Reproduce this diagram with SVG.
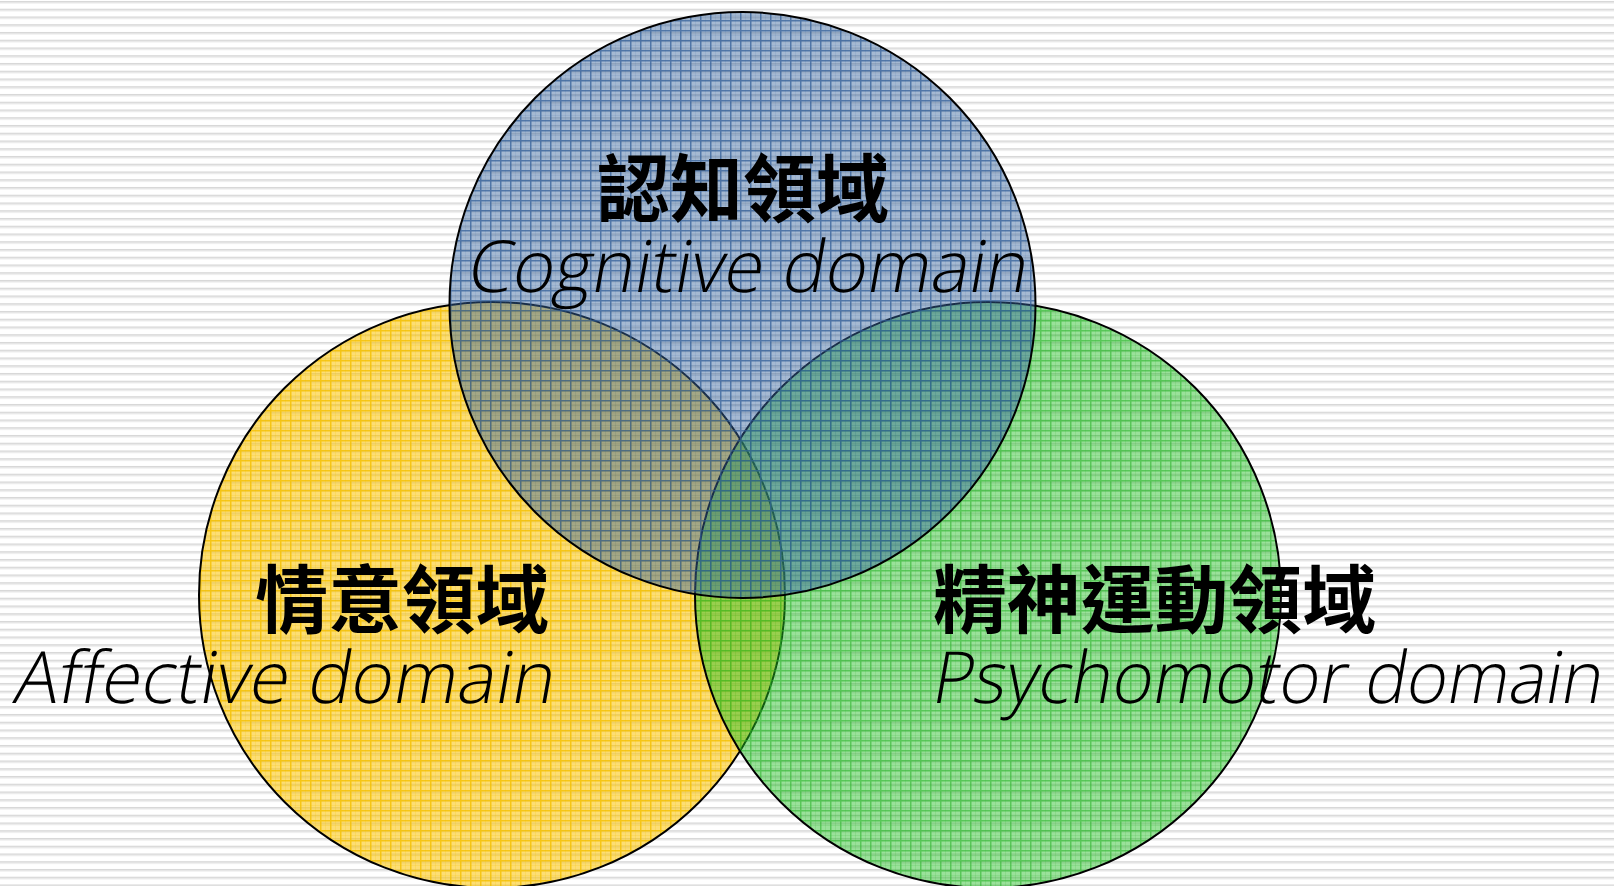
<svg xmlns="http://www.w3.org/2000/svg" width="1614" height="886" viewBox="0 0 1614 886">
<style>
.ring{stroke:#000;stroke-width:2}
.cjk{font-family:"Noto Sans CJK TC","Noto Sans CJK JP",sans-serif;font-weight:bold;font-size:74px;fill:#000}
.en{font-family:"Open Sans","Liberation Sans",Arial,sans-serif;font-weight:350;font-size:72px;fill:#000}
</style>
<defs>
<pattern id="bg" width="40" height="7.75" patternUnits="userSpaceOnUse">
<rect width="40" height="7.75" fill="#fff"/>
<rect y="1" width="40" height="1.6" fill="#d6d6d6"/>
<rect y="2.6" width="40" height="1" fill="#ececec"/>
</pattern>
<pattern id="pb" width="10" height="10" patternUnits="userSpaceOnUse">
<rect width="10" height="10" fill="#37649b" fill-opacity="0.45"/>
<path d="M0.75 0V10M0 0.75H10" stroke="#2d5b96" stroke-width="1.5" stroke-opacity="0.7"/>
<path d="M5.5 0V10M0 5.5H10" stroke="#3a6aa5" stroke-width="0.6" stroke-opacity="0.2"/>
</pattern>
<pattern id="py" width="10" height="10" patternUnits="userSpaceOnUse">
<rect width="10" height="10" fill="#fcc818" fill-opacity="0.6"/>
<path d="M0.75 0V10M0 0.75H10" stroke="#f5c000" stroke-width="1.5" stroke-opacity="0.8"/>
<path d="M5.5 0V10M0 5.5H10" stroke="#f0c000" stroke-width="0.6" stroke-opacity="0.3"/>
</pattern>
<pattern id="pg" width="10" height="10" patternUnits="userSpaceOnUse">
<rect width="10" height="10" fill="#22be22" fill-opacity="0.46"/>
<path d="M0.75 0V10M0 0.75H10" stroke="#2fb52f" stroke-width="1.5" stroke-opacity="0.6"/>
<path d="M5.5 0V10M0 5.5H10" stroke="#2fb52f" stroke-width="0.6" stroke-opacity="0.25"/>
</pattern>
</defs>
<rect width="1614" height="886" fill="url(#bg)"/>
<g id="affective">
<circle class="ring" cx="492" cy="595" r="293" fill="url(#py)"/>
</g>
<g id="psychomotor">
<circle class="ring" cx="988" cy="595" r="293" fill="url(#pg)"/>
</g>
<g id="cognitive">
<circle class="ring" cx="742.5" cy="305" r="293" fill="url(#pb)"/>
<text class="cjk" x="743" y="216" text-anchor="middle" textLength="292" lengthAdjust="spacingAndGlyphs">認知領域</text>
<text class="en" transform="translate(465 292) skewX(-10)" x="0" y="0" textLength="560" lengthAdjust="spacingAndGlyphs">Cognitive domain</text>
</g>
<g id="affective-label">
<text class="cjk" x="255" y="627" textLength="294" lengthAdjust="spacingAndGlyphs">情意領域</text>
<text class="en" transform="translate(12 703) skewX(-10)" x="0" y="0" textLength="540" lengthAdjust="spacingAndGlyphs">Affective domain</text>
</g>
<g id="psychomotor-label">
<text class="cjk" x="933" y="627" textLength="443" lengthAdjust="spacingAndGlyphs">精神運動領域</text>
<text class="en" transform="translate(930 703) skewX(-10)" x="0" y="0" textLength="670" lengthAdjust="spacingAndGlyphs">Psychomotor domain</text>
</g>
<g id="connectors"/>
</svg>
